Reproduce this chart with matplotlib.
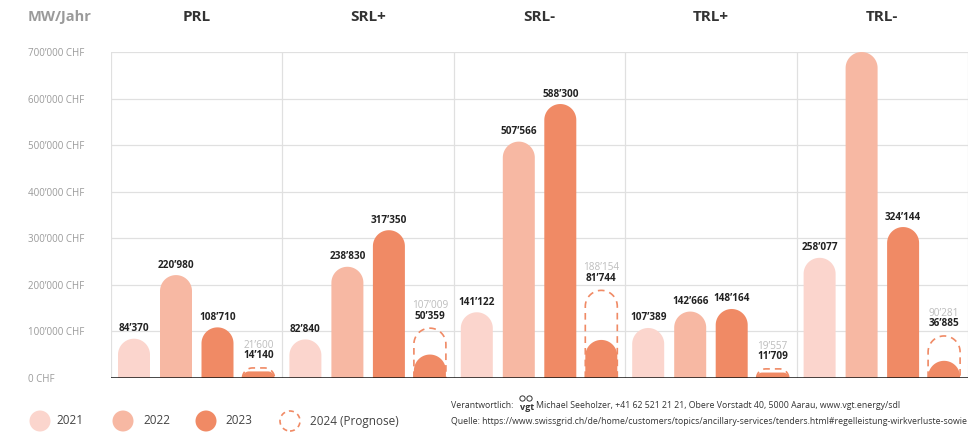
import numpy as np
import matplotlib.pyplot as plt
from matplotlib.patches import Polygon, Ellipse
from matplotlib.lines import Line2D

plt.rcParams['font.family'] = ['Open Sans', 'DejaVu Sans']

# Daten (CHF pro MW und Jahr)
gruppen = ['PRL', 'SRL+', 'SRL-', 'TRL+', 'TRL-']
jahre = ['2021', '2022', '2023', '2024 (Prognose)']
w2021 = [84370, 82840, 141122, 107389, 258077]
w2022 = [220980, 238830, 507566, 142666, 700000]   # TRL- 2022 geht oben aus dem Bild
w2023 = [108710, 317350, 588300, 148164, 324144]
prognose2024 = [21600, 107009, 188154, 19557, 90281]
ist2024 = [14140, 50359, 81744, 11709, 36885]

y_ticks = [0, 100000, 200000, 300000, 400000, 500000, 600000, 700000]

farben = ['#fbd5cd', '#f7b8a3', '#f08a65']
dunkel = '#222222'
grau = '#bdbdbd'

W, H = 968, 433
fig = plt.figure(figsize=(W / 100, H / 100), dpi=100)
ax_l, ax_r, ax_b, ax_t = 111, 968, 378, 52
ax = fig.add_axes([ax_l / W, 1 - ax_b / H, (ax_r - ax_l) / W, (ax_b - ax_t) / H])
ymax = 700000
ax.set_xlim(0, 5)
ax.set_ylim(0, ymax)

px_x = (ax_r - ax_l) / 5.0      # Pixel pro Gruppe
px_y = (ax_b - ax_t) / ymax     # Pixel pro CHF

breite = 32 / px_x
offs = [23 / px_x, 65 / px_x, 106.5 / px_x, 147.5 / px_x]


def runder_balken(xc, h, w):
    # Balken mit runder Kappe, Radius in Pixeln gerechnet
    r_px = min(w * px_x / 2, h * px_y)
    rx = r_px / px_x
    ry = r_px / px_y
    x0, x1 = xc - w / 2, xc + w / 2
    t = np.linspace(np.pi, np.pi / 2, 20)
    links = np.column_stack([x0 + rx + rx * np.cos(t), h - ry + ry * np.sin(t)])
    t = np.linspace(np.pi / 2, 0, 20)
    rechts = np.column_stack([x1 - rx + rx * np.cos(t), h - ry + ry * np.sin(t)])
    pts = np.vstack([[x0, 0], links, rechts, [x1, 0]])
    return pts


def label(x, y, txt, col=dunkel, bold=True):
    ax.text(x, y, txt, ha='center', va='center', fontsize=7.2,
            fontweight='bold' if bold else 'normal', color=col, clip_on=False)


def fmt(v):
    return f'{v:,}'.replace(',', '\u2019')


for g in range(5):
    for i, werte in enumerate([w2021, w2022, w2023]):
        xc = g + offs[i]
        v = werte[g]
        ax.add_patch(Polygon(runder_balken(xc, v, breite), closed=True,
                             facecolor=farben[i], edgecolor='none', zorder=3))
        if v < ymax:
            label(xc, v + 10 / px_y, fmt(v))
    xc = g + offs[3]
    ax.add_patch(Polygon(runder_balken(xc, ist2024[g], breite), closed=True,
                         facecolor=farben[2], edgecolor='none', zorder=3))
    ax.add_patch(Polygon(runder_balken(xc, prognose2024[g], breite), closed=False,
                         fill=False, edgecolor=farben[2], lw=1.2,
                         linestyle=(0, (4, 3)), zorder=4))
    label(xc, prognose2024[g] + 12 / px_y, fmt(ist2024[g]))
    label(xc, prognose2024[g] + 22.5 / px_y, fmt(prognose2024[g]), col=grau, bold=False)
    fig.text((ax_l + (g + 0.5) * px_x) / W, 1 - 17 / H, gruppen[g], ha='center',
             va='center', fontsize=11, fontweight='bold', color='#333333')

# Gitter
for yv in y_ticks[1:]:
    ax.axhline(yv, color='#e0e0e0', lw=0.9, zorder=1)
for g in range(6):
    ax.axvline(g, color='#e0e0e0', lw=0.9, zorder=1)
ax.axhline(0, color='#111111', lw=1.8, zorder=5)

for s in ax.spines.values():
    s.set_visible(False)
ax.set_xticks([])
ax.set_yticks(y_ticks, [fmt(v) + ' CHF' if v else '0 CHF' for v in y_ticks])
ax.tick_params(axis='y', length=0, pad=(ax_l - 28) * 0.72, labelsize=7, labelcolor='#9a9a9a')
for t in ax.get_yticklabels():
    t.set_ha('left')

fig.text(28 / W, 1 - 17 / H, 'MW/Jahr', ha='left', va='center', fontsize=10.5,
         fontweight='bold', color='#9a9a9a')

# Legende
leg_x = [40, 123, 206, 290]
leg_tx = [56, 143, 225, 310]
for i in range(4):
    cx, cy = leg_x[i] / W, 1 - 421 / H
    if i < 3:
        e = Ellipse((cx, cy), 21 / W, 21 / H, facecolor=farben[i], edgecolor='none',
                    transform=fig.transFigure)
    else:
        e = Ellipse((cx, cy), 20 / W, 20 / H, fill=False, edgecolor=farben[2], lw=1.2,
                    linestyle=(0, (3, 2.5)), transform=fig.transFigure)
    fig.add_artist(e)
    fig.text(leg_tx[i] / W, cy, jahre[i], ha='left', va='center', fontsize=8.5, color='#444444')

# Fusszeile
fs = 6.3
fig.text(451 / W, 1 - 406 / H, 'Verantwortlich:', ha='left', va='center', fontsize=fs, color='#333333')
fig.text(520 / W, 1 - 407 / H, 'vgt', ha='left', va='center', fontsize=6.5, fontweight='bold', color='#333333')
for px in [522, 529]:
    fig.add_artist(Line2D([px / W], [1 - 398 / H], transform=fig.transFigure, marker='o',
                          markersize=3.8, markerfacecolor='white', markeredgecolor='#333333', mew=0.7))
fig.text(536 / W, 1 - 406 / H,
         'Michael Seeholzer, +41 62 521 21 21, Obere Vorstadt 40, 5000 Aarau, www.vgt.energy/sdl',
         ha='left', va='center', fontsize=fs, color='#333333')
fig.text(451 / W, 1 - 422 / H,
         'Quelle: https://www.swissgrid.ch/de/home/customers/topics/ancillary-services/tenders.html#regelleistung-wirkverluste-sowie',
         ha='left', va='center', fontsize=fs, color='#333333')

fig.savefig('out.png', dpi=100)
